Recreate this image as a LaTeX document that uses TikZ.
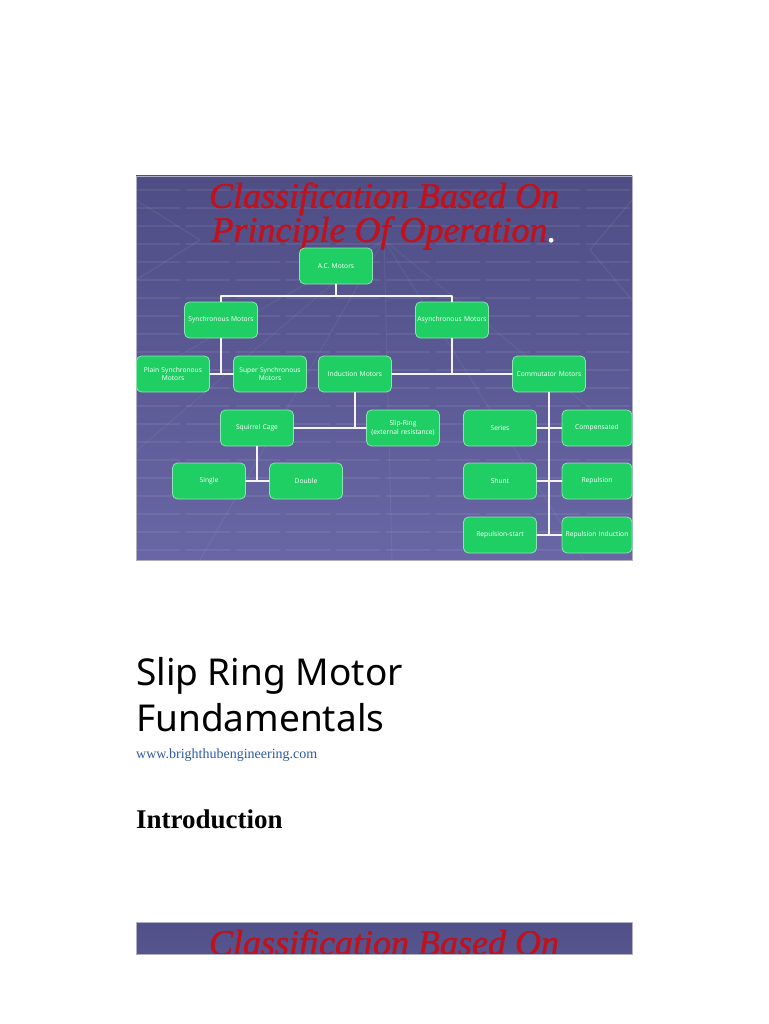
\documentclass[tikz,border=0pt]{standalone}
\usepackage{fontspec}
\setmainfont{Liberation Serif}
\newfontfamily\headfont{Noto Sans}
\newfontfamily\boxfont{Open Sans}
\newfontfamily\titlefont[ItalicFeatures={FakeBold=1.2}]{Liberation Serif}
\usetikzlibrary{positioning,calc}

\definecolor{slidetop}{HTML}{4E4D84}
\definecolor{slidebot}{HTML}{6966A5}
\definecolor{boxgreen}{HTML}{1FCF64}
\definecolor{boxedge}{HTML}{8EE3B2}
\definecolor{titlered}{HTML}{C0121C}
\definecolor{linkblue}{HTML}{2E5AA8}

\tikzset{
  motor/.style={draw=boxedge, line width=0.8pt, fill=boxgreen, rounded corners=5pt,
    minimum width=73pt, minimum height=36pt, text width=71pt, align=center,
    inner sep=1pt, text=white, font=\boxfont\fontsize{6.7}{8.3}\selectfont},
  link/.style={draw=white!92!slidebot, line width=1.6pt},
  slidetitle/.style={font=\titlefont\itshape\fontsize{36}{33}\selectfont, text=titlered,
    inner sep=0pt, align=center}
}

\begin{document}
\begin{tikzpicture}[x=1pt, y=-1pt, line join=round, line cap=round]
  \useasboundingbox (0,0) rectangle (768,1024);
  \fill[white] (0,0) rectangle (768,1024);

  \def\sleft{136}
  \def\sright{632}

  % slide background
  \shade[top color=slidetop, bottom color=slidebot] (\sleft,176) rectangle (\sright,560);
  \begin{scope}
    \clip (\sleft,176) rectangle (\sright,560);
    \foreach \y in {190,208,...,550}
      \draw[white, opacity=0.07, line width=1.2pt, dash pattern=on 44pt off 6pt] (\sleft,\y) -- (\sright,\y);
    \foreach \x in {-200,-80,40,160,280,400}
      \draw[white, opacity=0.06, line width=1pt] (384,240) -- (\sleft+\x*1.6,560);
    \draw[white, opacity=0.08, line width=1pt] (\sleft,280) -- (200,240) -- (\sleft,200);
    \draw[white, opacity=0.08, line width=1pt] (\sright,300) -- (590,250) -- (\sright,200);
  \end{scope}
  \draw[white!55!slidetop, line width=0.5pt] (\sleft,176) rectangle (\sright,560);

  % title
  \node[slidetitle] (title) at (384,216) {Classification Based On\\Principle Of Operation{\color{white}.}};

  % boxes
  \node[motor] (ac) at (336,266) {A.C. Motors};
  \node[motor] (sync) at (221,320) {Synchronous Motors};
  \node[motor] (async) at (452,320) {Asynchronous Motors};
  \node[motor] (plain) at (173,374) {Plain Synchronous\\Motors};
  \node[motor] (super) at (270,374) {Super Synchronous\\Motors};
  \node[motor] (induct) at (355,374) {Induction Motors};
  \node[motor] (commut) at (549,374) {Commutator Motors};
  \node[motor] (squirrel) at (257,428) {Squirrel Cage};
  \node[motor] (slip) at (403,428) {Slip-Ring\\(external resistance)};
  \node[motor] (single) at (209,481) {Single};
  \node[motor] (double) at (306,481) {Double};
  \node[motor] (series) at (500,428) {Series};
  \node[motor, minimum width=70pt, text width=68pt] (comp) at (597,428) {Compensated};
  \node[motor] (shunt) at (500,481) {Shunt};
  \node[motor, minimum width=70pt, text width=68pt] (repul) at (597,481) {Repulsion};
  \node[motor] (repstart) at (500,535) {Repulsion-start};
  \node[motor, minimum width=70pt, text width=68pt] (repind) at (597,535) {Repulsion Induction};

  % connectors
  \coordinate (acjoin) at (336,296);
  \draw[link] (ac.south) -- (acjoin);
  \draw[link] (sync.north) |- (acjoin) -| (async.north);
  \draw[link] (sync.south) -- (sync.south |- plain.east);
  \draw[link] (plain.east) -- (super.west);
  \draw[link] (async.south) -- (async.south |- induct.east);
  \draw[link] (induct.east) -- (commut.west);
  \draw[link] (induct.south) -- (induct.south |- squirrel.east);
  \draw[link] (squirrel.east) -- (slip.west);
  \draw[link] (squirrel.south) -- (squirrel.south |- single.east);
  \draw[link] (single.east) -- (double.west);
  \draw[link] (commut.south) -- (commut.south |- repstart.east);
  \draw[link] (series.east) -- (comp.west);
  \draw[link] (shunt.east) -- (repul.west);
  \draw[link] (repstart.east) -- (repind.west);

  % page text
  \node[anchor=base west, inner sep=0pt, font=\headfont\fontsize{37}{46}\selectfont] (head1) at (136,685) {Slip Ring Motor};
  \node[anchor=base west, inner sep=0pt, font=\headfont\fontsize{37}{46}\selectfont] (head2) at (136,731) {Fundamentals};
  \node[anchor=base west, inner sep=0pt, font=\fontsize{14}{16}\selectfont, text=linkblue] (site) at (136,758) {www.brighthubengineering.com};
  \node[anchor=base west, inner sep=0pt, font=\bfseries\fontsize{27}{30}\selectfont] (intro) at (136,828) {Introduction};

  % second slide, cut off
  \shade[top color=slidetop!90!slidebot, bottom color=slidetop!70!slidebot] (\sleft,922) rectangle (\sright,954);
  \begin{scope}
    \clip (\sleft,922) rectangle (\sright,954);
    \node[slidetitle] (title3) at (384,946) {Classification Based On};
  \end{scope}
  \draw[white!55!slidetop, line width=0.5pt] (\sleft,922) rectangle (\sright,954);
\end{tikzpicture}
\end{document}
